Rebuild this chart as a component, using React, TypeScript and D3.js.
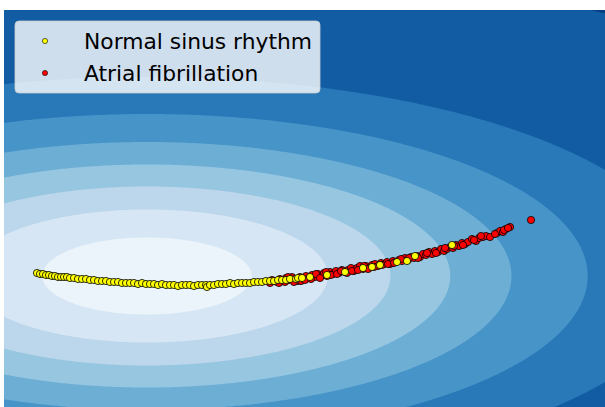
import React, { useEffect, useRef } from 'react'
import * as d3 from 'd3'

// feature space units (model centre at 0,0)
const levels = [0.385, 0.665, 0.895, 1.115, 1.34, 1.62, 1.99, 3.12]
const modelCenter = [0, 0]
const modelScale = [2.72, 1.0]

const legendLabels = ['Normal sinus rhythm', 'Atrial fibrillation']
const legendColors = ['#ffff00', '#ff0000']

const normalPoints = [
  [-1.10, 0.03], [-1.07, 0.02], [-1.04, 0.02], [-1.01, 0.01], [-0.98, 0.01], [-0.95, 0.00],
  [-0.92, 0.00], [-0.89, -0.01], [-0.86, -0.01], [-0.83, -0.01], [-0.80, -0.01], [-0.77, -0.02],
  [-0.73, -0.02], [-0.69, -0.03], [-0.65, -0.03], [-0.61, -0.03], [-0.57, -0.04], [-0.53, -0.04],
  [-0.49, -0.05], [-0.45, -0.05], [-0.41, -0.05], [-0.37, -0.06], [-0.33, -0.06], [-0.29, -0.06],
  [-0.25, -0.07], [-0.21, -0.07], [-0.17, -0.07], [-0.13, -0.07], [-0.09, -0.08], [-0.05, -0.07],
  [-0.01, -0.08], [0.03, -0.08], [0.07, -0.08], [0.11, -0.09], [0.15, -0.08], [0.19, -0.09],
  [0.23, -0.09], [0.27, -0.09], [0.31, -0.10], [0.35, -0.09], [0.39, -0.09], [0.43, -0.09],
  [0.47, -0.10], [0.51, -0.09], [0.55, -0.09], [0.59, -0.09], [0.60, -0.11], [0.63, -0.09],
  [0.67, -0.09], [0.71, -0.08], [0.75, -0.08], [0.79, -0.08], [0.83, -0.07], [0.87, -0.08],
  [0.91, -0.07], [0.95, -0.07], [0.99, -0.07], [1.03, -0.07], [1.07, -0.06], [1.11, -0.06],
  [1.15, -0.06], [1.19, -0.05], [1.23, -0.05], [1.27, -0.05], [1.31, -0.04], [1.35, -0.04],
  [1.39, -0.04], [1.43, -0.03], [1.49, -0.03], [1.51, -0.02], [1.55, -0.02], [1.63, -0.01],
  [1.80, 0.01], [1.98, 0.04], [2.16, 0.08], [2.25, 0.09], [2.33, 0.11], [2.50, 0.14],
  [2.60, 0.15], [2.68, 0.20], [3.05, 0.31]
]

const afibPoints = [
  [1.23, -0.07], [1.27, -0.05], [1.30, -0.06], [1.33, -0.03], [1.36, -0.05], [1.39, -0.02],
  [1.42, -0.04], [1.45, -0.01], [1.48, -0.03], [1.51, -0.05], [1.53, -0.01], [1.56, -0.03],
  [1.59, 0.00], [1.62, -0.02], [1.65, 0.01], [1.68, -0.01], [1.71, 0.02], [1.74, 0.00],
  [1.77, 0.03], [1.80, 0.00], [1.83, 0.04], [1.86, 0.02], [1.89, 0.05], [1.92, 0.03],
  [1.95, 0.06], [1.98, 0.04], [2.01, 0.06], [2.04, 0.08], [2.07, 0.05], [2.10, 0.08],
  [2.13, 0.10], [2.16, 0.07], [2.19, 0.10], [2.22, 0.08], [2.25, 0.11], [2.28, 0.12],
  [2.31, 0.10], [2.34, 0.13], [2.37, 0.12], [2.40, 0.14], [2.43, 0.12], [2.46, 0.15],
  [2.49, 0.14], [2.52, 0.16], [2.55, 0.15], [2.58, 0.18], [2.61, 0.16], [2.64, 0.19],
  [2.67, 0.18], [2.70, 0.20], [2.73, 0.19], [2.76, 0.22], [2.79, 0.21], [2.82, 0.24],
  [2.85, 0.22], [2.88, 0.25], [2.91, 0.24], [2.94, 0.27], [2.97, 0.25], [3.00, 0.27],
  [3.03, 0.29], [3.06, 0.28], [3.09, 0.31], [3.12, 0.30], [3.15, 0.33], [3.18, 0.32],
  [3.21, 0.34], [3.25, 0.37], [3.29, 0.35], [3.32, 0.38], [3.36, 0.39], [3.39, 0.40],
  [3.43, 0.39], [3.50, 0.43], [3.53, 0.45], [3.56, 0.44], [3.59, 0.47], [3.63, 0.49],
  [3.84, 0.56],
  [1.25, -0.04], [1.32, -0.07], [1.38, -0.06], [1.41, -0.01], [1.47, -0.06], [1.54, -0.05],
  [1.58, -0.04], [1.64, -0.03], [1.69, 0.02], [1.73, -0.02], [1.79, 0.04], [1.84, 0.01],
  [1.90, 0.02], [1.94, 0.05], [2.00, 0.03], [2.05, 0.05], [2.11, 0.06], [2.17, 0.10],
  [2.21, 0.07], [2.27, 0.09], [2.35, 0.11], [2.41, 0.12], [2.47, 0.13], [2.54, 0.17],
  [2.62, 0.18], [2.71, 0.18], [2.80, 0.23], [2.89, 0.23], [2.98, 0.28], [3.07, 0.30],
  [3.16, 0.31], [3.27, 0.36], [3.34, 0.40], [3.48, 0.42], [3.57, 0.46], [3.61, 0.48]
]

const W = 605, H = 407
const plot = { left: 4, top: 10, right: 605, bottom: 407 }

export default function App() {
  const ref = useRef<SVGSVGElement>(null)

  useEffect(() => {
    const svg = d3.select(ref.current)
    svg.selectAll('*').remove()

    const x = d3.scaleLinear().domain([-1.43, 4.58]).range([plot.left, plot.right])
    const y = d3.scaleLinear().domain([-1.31, 2.66]).range([plot.bottom, plot.top])

    svg.append('clipPath').attr('id', 'plotclip')
      .append('rect')
      .attr('x', plot.left).attr('y', plot.top)
      .attr('width', plot.right - plot.left).attr('height', plot.bottom - plot.top)

    const g = svg.append('g').attr('clip-path', 'url(#plotclip)')

    // model distance field on a grid
    const step = 0.02
    const x0 = -1.5, y1 = 2.75
    const nx = Math.ceil((4.7 - x0) / step), ny = Math.ceil((y1 + 1.4) / step)
    const values = new Array(nx * ny)
    for (let j = 0; j < ny; j++) {
      for (let i = 0; i < nx; i++) {
        const dx = (x0 + i * step - modelCenter[0]) / modelScale[0]
        const dy = (y1 - j * step - modelCenter[1]) / modelScale[1]
        values[i + j * nx] = Math.sqrt(dx * dx + dy * dy)
      }
    }
    const colors = d3.range(levels.length + 1).map(k => d3.interpolateBlues((k + 0.5) / (levels.length + 1)))

    const proj = d3.geoTransform({
      point(px, py) {
        this.stream.point(x(x0 + (px - 0.5) * step), y(y1 - (py - 0.5) * step))
      }
    })
    const path = d3.geoPath(proj)

    g.append('rect')
      .attr('x', plot.left).attr('y', plot.top)
      .attr('width', plot.right - plot.left).attr('height', plot.bottom - plot.top)
      .attr('fill', colors[0])

    const bands = d3.contours().size([nx, ny]).thresholds(levels)(values)
    g.selectAll('path.band')
      .data(bands)
      .enter()
      .append('path')
        .attr('class', 'band')
        .attr('d', d => path(d as any))
        .attr('fill', (d, i) => colors[i + 1])

    const drawPoints = (pts: number[][], color: string) => {
      g.append('g').selectAll('circle')
        .data(pts)
        .enter()
        .append('circle')
          .attr('cx', d => x(d[0]))
          .attr('cy', d => y(d[1]))
          .attr('r', 3.6)
          .attr('fill', color)
          .attr('stroke', '#000')
          .attr('stroke-width', 0.8)
    }
    drawPoints(afibPoints, legendColors[1])
    drawPoints(normalPoints, legendColors[0])

    // legend
    const lg = svg.append('g')
    lg.append('rect')
      .attr('x', 15).attr('y', 21).attr('width', 305).attr('height', 72).attr('rx', 4)
      .attr('fill', '#fff').attr('fill-opacity', 0.8)
      .attr('stroke', '#ccc').attr('stroke-opacity', 0.8)
    legendLabels.forEach((label, i) => {
      const cy = 41 + i * 32
      lg.append('circle')
        .attr('cx', 45).attr('cy', cy).attr('r', 2.6)
        .attr('fill', legendColors[i]).attr('stroke', '#000').attr('stroke-width', 0.6)
      lg.append('text')
        .attr('x', 84).attr('y', cy + 7.5)
        .attr('font-family', 'DejaVu Sans')
        .attr('font-size', 21.8)
        .attr('fill', '#000')
        .text(label)
    })
  }, [])

  return (
    <svg ref={ref} width={W} height={H} style={{ position: 'absolute', left: 0, top: 0 }} />
  )
}
